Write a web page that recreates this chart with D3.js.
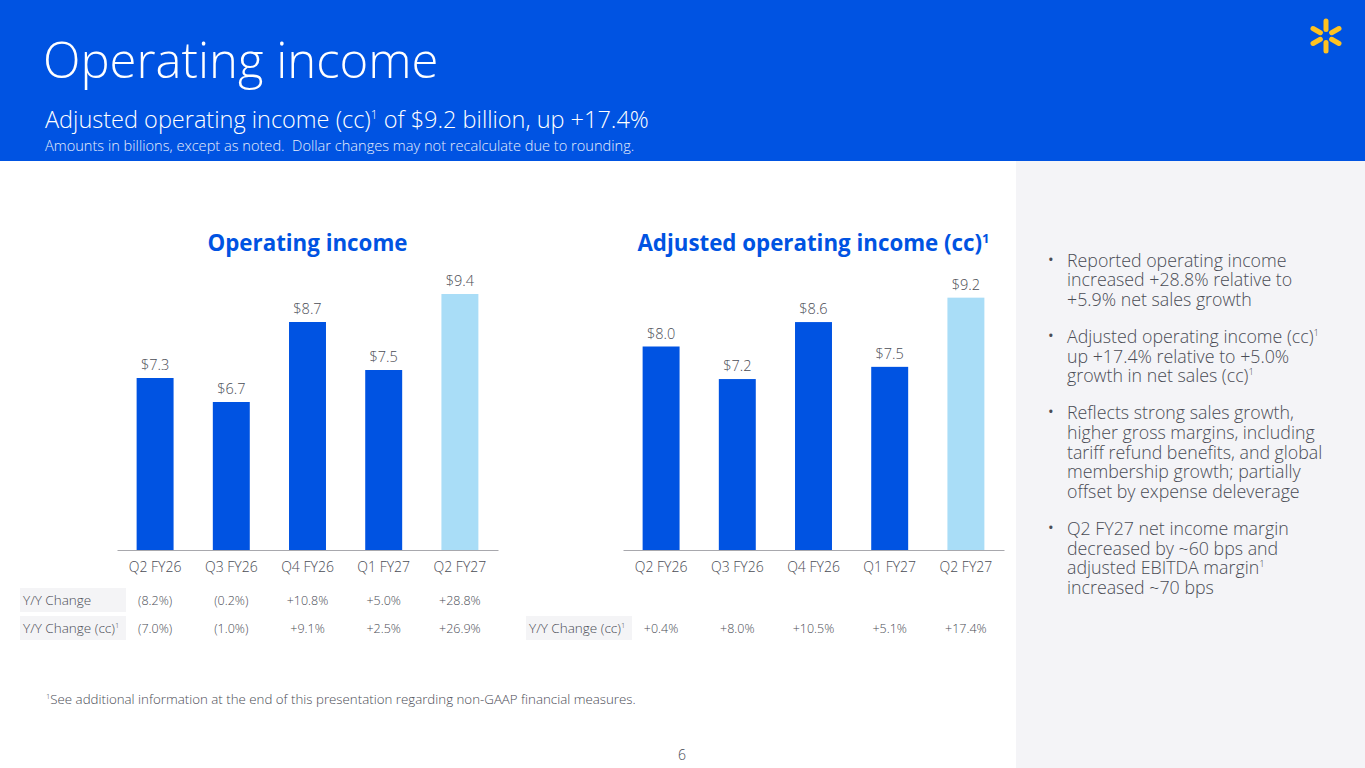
<!DOCTYPE html>
<html>
<head>
<meta charset="utf-8">
<script src="https://cdn.jsdelivr.net/npm/d3@7"></script>
<style>
  body { margin: 0; background: #fff; }
  svg { display: block; font-family: "Open Sans", sans-serif; }
  text { white-space: pre; }
</style>
</head>
<body>
<svg id="canvas" width="1365" height="768"></svg>
<script>
// chart data
const categories = ["Q2 FY26", "Q3 FY26", "Q4 FY26", "Q1 FY27", "Q2 FY27"];
const opIncome = [7.3, 6.7, 8.7, 7.5, 9.4];
const adjOpIncome = [8.0, 7.2, 8.6, 7.5, 9.2];
const yoyChange = ["(8.2%)", "(0.2%)", "+10.8%", "+5.0%", "+28.8%"];
const yoyChangeCc = ["(7.0%)", "(1.0%)", "+9.1%", "+2.5%", "+26.9%"];
const adjYoyChangeCc = ["+0.4%", "+8.0%", "+10.5%", "+5.1%", "+17.4%"];
const bullets = [
    ["Reported operating income", "increased +28.8% relative to", "+5.9% net sales growth"],
    ["Adjusted operating income (cc)^", "up +17.4% relative to +5.0%", "growth in net sales (cc)^"],
    ["Reflects strong sales growth,", "higher gross margins, including", "tariff refund benefits, and global", "membership growth; partially", "offset by expense deleverage"],
    ["Q2 FY27 net income margin", "decreased by ~60 bps and", "adjusted EBITDA margin^", "increased ~70 bps"]
];

const blue = "#0053e2";
const lightBlue = "#a9ddf7";
const textGray = "#4a4c55";

const svg = d3.select('#canvas');

// header band
svg.append('rect').attr('x', 0).attr('y', 0).attr('width', 1365).attr('height', 161).style('fill', blue);
svg.append('text').attr('x', 43).attr('y', 78)
    .style('fill', '#fff').style('font-size', '49px').style('font-weight', 300)
    .text('Operating income');

// helper: text with "^" rendered as superscript 1
function supText(sel, str, supSize, shift) {
    const parts = str.split('^');
    let up = false;
    parts.forEach((p, i) => {
        if (p.length) {
            sel.append('tspan').attr('dy', up ? shift : 0).text(p);
            up = false;
        }
        if (i < parts.length - 1) {
            sel.append('tspan').attr('dy', -shift).style('font-size', supSize).text('1');
            up = true;
        }
    });
    return sel;
}

supText(svg.append('text').attr('x', 45).attr('y', 128)
    .style('fill', '#fff').style('font-size', '23.5px').style('font-weight', 300),
    'Adjusted operating income (cc)^ of $9.2 billion, up +17.4%', '12px', 9);
svg.append('text').attr('x', 45).attr('y', 151)
    .style('fill', '#e6edfc').style('font-size', '14.6px').style('font-weight', 300)
    .text('Amounts in billions, except as noted.  Dollar changes may not recalculate due to rounding.');

// spark logo
const spark = svg.append('g').attr('transform', 'translate(1326,36)');
[90, 30, 150, 210, 330, 270].forEach(a => {
    const r = a * Math.PI / 180;
    spark.append('line')
        .attr('x1', 6.5 * Math.cos(r)).attr('y1', -6.5 * Math.sin(r))
        .attr('x2', 15 * Math.cos(r)).attr('y2', -15 * Math.sin(r))
        .style('stroke', '#ffc220').style('stroke-width', 5).style('stroke-linecap', 'round');
});

// right panel
svg.append('rect').attr('x', 1016).attr('y', 161).attr('width', 349).attr('height', 607).style('fill', '#f4f4f7');
let by = 266.5;
bullets.forEach(lines => {
    svg.append('text').attr('x', 1048).attr('y', by - 2).style('fill', textGray).style('font-size', '15px').text('\u2022');
    lines.forEach((ln, i) => {
        supText(svg.append('text').attr('x', 1067).attr('y', by + i * 19.7)
            .style('fill', textGray).style('font-size', '17.8px').style('font-weight', 300), ln, '9.5px', 7);
    });
    by += lines.length * 19.7 + 17.2;
});

// bar charts
function barChart(x0, x1, title, values, k, rows) {
    const x = d3.scaleBand().domain(categories).range([x0, x1]).paddingInner(0.515).paddingOuter(0.2575);
    const y = d3.scaleLinear().domain([3, 10]).range([550, 550 - 7 * k]);
    const g = svg.append('g');

    supText(g.append('text').attr('x', (x0 + x1) / 2).attr('y', 251).attr('text-anchor', 'middle')
        .style('fill', blue).style('font-size', '22.3px').style('font-weight', 700), title, '13px', 8);

    g.selectAll('rect.bar')
        .data(values)
        .join('rect')
        .attr('class', 'bar')
        .attr('x', (d, i) => x(categories[i]))
        .attr('width', x.bandwidth())
        .attr('y', d => y(d))
        .attr('height', d => y.range()[0] - y(d))
        .style('fill', (d, i) => i === values.length - 1 ? lightBlue : blue);

    g.selectAll('text.val')
        .data(values)
        .join('text')
        .attr('class', 'val')
        .attr('x', (d, i) => x(categories[i]) + x.bandwidth() / 2)
        .attr('y', d => y(d) - 8)
        .attr('text-anchor', 'middle')
        .style('fill', textGray).style('font-size', '14.5px').style('font-weight', 300)
        .text(d => '$' + d.toFixed(1));

    const axis = g.append('g').attr('transform', 'translate(0,550)')
        .call(d3.axisBottom(x).tickSize(0).tickPadding(12));
    axis.select('.domain').style('stroke', '#a8a8ad');
    axis.selectAll('text').style('fill', textGray).style('font-size', '14px').style('font-weight', 300)
        .style('font-family', '"Open Sans", sans-serif');

    rows.forEach(row => {
        g.append('rect').attr('x', x0 - 97).attr('y', row.y - 17).attr('width', 106).attr('height', 24).style('fill', '#f4f4f6');
        supText(g.append('text').attr('x', x0 - 94).attr('y', row.y)
            .style('fill', textGray).style('font-size', '13.5px').style('font-weight', 300), row.label, '7.5px', 5);
        g.selectAll(null)
            .data(row.values)
            .join('text')
            .attr('x', (d, i) => x(categories[i]) + x.bandwidth() / 2)
            .attr('y', row.y)
            .attr('text-anchor', 'middle')
            .style('fill', textGray).style('font-size', '12.5px').style('font-weight', 300)
            .text(d => d);
    });
}

barChart(117, 498, 'Operating income', opIncome, 40, [
    {label: 'Y/Y Change', values: yoyChange, y: 605},
    {label: 'Y/Y Change (cc)^', values: yoyChangeCc, y: 633}
]);
barChart(623, 1004, 'Adjusted operating income (cc)^', adjOpIncome, 40.7, [
    {label: 'Y/Y Change (cc)^', values: adjYoyChangeCc, y: 633}
]);

// footnote and page number
supText(svg.append('text').attr('x', 46).attr('y', 704)
    .style('fill', textGray).style('font-size', '13.3px').style('font-weight', 300),
    '^See additional information at the end of this presentation regarding non-GAAP financial measures.', '7.5px', 5);
svg.append('text').attr('x', 682).attr('y', 760).attr('text-anchor', 'middle')
    .style('fill', textGray).style('font-size', '14px').style('font-weight', 300).text('6');
</script>
</body>
</html>
